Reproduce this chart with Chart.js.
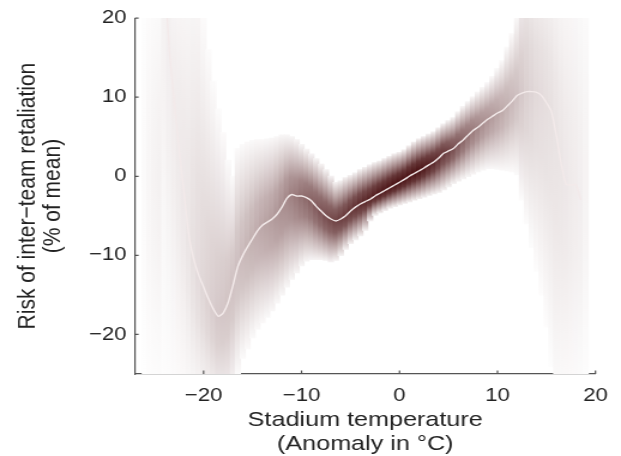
<!DOCTYPE html>
<html>
<head>
<meta charset="utf-8">
<script src="https://cdn.jsdelivr.net/npm/chart.js@4.4.1/dist/chart.umd.min.js"></script>
<style>
  html, body { margin: 0; padding: 0; background: #fff; }
  /* the reference figure is stretched sideways, so the canvas is too */
  #wrap { width: 518px; height: 456px; transform: scaleX(1.1988); transform-origin: 0 0; }
</style>
</head>
<body>
<div id="wrap"><canvas id="tempChart" width="518" height="456"></canvas></div>
<script>
// temperature anomaly (deg C) at which the band is sampled
const bandX = [
  -26, -25.5, -25, -24.5, -24, -23.5, -23, -22.5, -22, -21.5,
  -21, -20.5, -20, -19.5, -19, -18.5, -18, -17.5, -17, -16.5,
  -16, -15.5, -15, -14.5, -14, -13.5, -13, -12.5, -12, -11.5,
  -11, -10.5, -10, -9.5, -9, -8.5, -8, -7.5, -7, -6.5,
  -6, -5.5, -5, -4.5, -4, -3.5, -3, -2.5, -2, -1.5,
  -1, -0.5, 0, 0.5, 1, 1.5, 2, 2.5, 3, 3.5,
  4, 4.5, 5, 5.5, 6, 6.5, 7, 7.5, 8, 8.5,
  9, 9.5, 10, 10.5, 11, 11.5, 12, 12.5, 13, 13.5,
  14, 14.5, 15, 15.5, 16, 16.5, 17, 17.5, 18, 18.5, 19
];
// mean risk (% of mean), the white line
const meanRisk = [
  null, null, null, null, 26, 16, 9.5, 3.5, -2, -7.5,
  -10.5, -12.5, -14, -15.5, -16.8, -17.7, -17.3, -16, -13.8, -11.4,
  -10, -8.9, -7.9, -6.9, -6.2, -5.8, -5.4, -4.8, -3.9, -2.8,
  -2.3, -2.5, -2.5, -2.7, -3.1, -3.8, -4.4, -5.0, -5.4, -5.65,
  -5.4, -5.0, -4.4, -3.9, -3.5, -3.2, -2.9, -2.5, -2.15, -1.8,
  -1.45, -1.1, -0.75, -0.4, 0.0, 0.35, 0.7, 1.05, 1.45, 1.8,
  2.3, 2.9, 3.2, 3.5, 4.1, 4.6, 5.2, 5.8, 6.2, 6.7,
  7.2, 7.6, 8.0, 8.3, 8.9, 9.5, 10.2, 10.5, 10.7, 10.7,
  10.6, 10.2, 9.3, 8.2, 5.2, 1.6, -1.0, -1.1, -1.0, -3.0, null
];
// lower and upper edge of the uncertainty band
const bandLow = [
  -30, -30, -30, -30, -30, -30, -30, -30, -30, -30,
  -30, -30, -30, -30, -30, -30, -30, -30, -28, -25,
  -23, -21.8, -20.4, -19.3, -18.5, -17.8, -17.0, -16.0, -15.0, -14.0,
  -13.0, -12.2, -11.3, -10.7, -10.5, -10.5, -10.5, -10.6, -10.8, -10.6,
  -10.0, -9.2, -8.5, -8.0, -7.5, -6.8, -5.6, -4.9, -4.6, -4.3,
  -4.0, -3.8, -3.6, -3.4, -3.2, -3.0, -2.8, -2.6, -2.4, -2.2,
  -2.0, -1.7, -1.3, -0.9, -0.6, -0.3, 0.0, 0.3, 0.6, 0.8,
  1.0, 1.0, 0.9, 0.8, 0.7, 0.6, 0.2, -3, -6, -9,
  -12, -15, -19, -24, -30, -30, -30, -30, -30, -30, -30
];
const bandHigh = [
  30, 30, 30, 30, 30, 30, 30, 30, 30, 30,
  30, 28, 21, 16, 12, 8.5, 5.5, 2, 0, 3.5,
  4, 4.3, 4.5, 4.6, 4.6, 4.7, 4.8, 5.0, 5.2, 5.2,
  5.0, 4.6, 4.0, 3.4, 2.8, 2.2, 1.5, 0.8, 0.0, -0.8,
  -0.6, -0.2, 0.1, 0.4, 0.8, 1.1, 1.4, 1.7, 1.9, 2.2,
  2.5, 2.8, 3.0, 3.3, 3.8, 4.3, 4.7, 5.0, 5.3, 5.6,
  6.1, 6.6, 7.0, 7.4, 8.1, 8.8, 9.4, 10.0, 10.6, 11.2,
  11.8, 12.6, 13.6, 14.6, 16.3, 18.0, 20.5, 26, 30, 30,
  30, 30, 30, 30, 30, 30, 30, 30, 30, 30, 30
];
// darkness of the band at the mean line (0 = white, 1 = full colour)
const intensity = [
  0.02, 0.04, 0.05, 0.06, 0.06, 0.07, 0.08, 0.09, 0.10, 0.11,
  0.13, 0.15, 0.17, 0.19, 0.21, 0.23, 0.24, 0.25, 0.26, 0.27,
  0.29, 0.31, 0.33, 0.35, 0.37, 0.39, 0.41, 0.44, 0.47, 0.50,
  0.53, 0.56, 0.60, 0.63, 0.66, 0.69, 0.72, 0.75, 0.77, 0.79,
  0.81, 0.83, 0.85, 0.87, 0.89, 0.91, 0.93, 0.95, 0.97, 0.98,
  0.99, 1, 1, 1, 1, 1, 1, 0.98, 0.95, 0.92,
  0.88, 0.84, 0.80, 0.75, 0.70, 0.65, 0.60, 0.56, 0.52, 0.48,
  0.45, 0.42, 0.39, 0.36, 0.33, 0.30, 0.27, 0.23, 0.20, 0.18,
  0.16, 0.15, 0.14, 0.13, 0.12, 0.11, 0.10, 0.09, 0.08, 0.07, 0.05
];
const xTicks = [-20, -10, 0, 10, 20];
const yTicks = [-20, -10, 0, 10, 20];

const baseRGB = [74, 18, 20];
const axisColor = '#555555';
const textColor = '#222222';

// colour of the band mixed with white, so neighbouring bars do not stack up
function tint(a) {
  a = Math.max(0, Math.min(1, a));
  const c = baseRGB.map(v => Math.round(255 - (255 - v) * a));
  return 'rgb(' + c.join(',') + ')';
}

function bandFill(context) {
  const chart = context.chart;
  const i = context.dataIndex;
  if (!chart.chartArea || i === undefined) return 'rgba(0,0,0,0)';
  const yScale = chart.scales.y;
  const lo = bandLow[i], hi = bandHigh[i];
  const mid = meanRisk[i] !== null ? meanRisk[i] : (lo + hi) / 2;
  const top = yScale.getPixelForValue(hi);
  const bottom = yScale.getPixelForValue(lo);
  let f = (hi - mid) / (hi - lo);
  f = Math.max(0.02, Math.min(0.98, f));
  const a = intensity[i];
  const g = chart.ctx.createLinearGradient(0, top, 0, bottom);
  g.addColorStop(0, tint(a * 0.08));
  g.addColorStop(f * 0.35, tint(a * 0.45));
  g.addColorStop(f * 0.7, tint(a * 0.85));
  g.addColorStop(f, tint(a));
  g.addColorStop(f + (1 - f) * 0.3, tint(a * 0.85));
  g.addColorStop(f + (1 - f) * 0.65, tint(a * 0.45));
  g.addColorStop(1, tint(a * 0.08));
  return g;
}

function minusLabel(v) {
  return v < 0 ? '\u2212' + Math.abs(v) : String(v);
}

// short tick marks pointing into the plot, matlab style
const innerTicks = {
  id: 'innerTicks',
  afterDatasetsDraw(chart) {
    const {ctx, chartArea, scales} = chart;
    ctx.save();
    ctx.strokeStyle = axisColor;
    ctx.lineWidth = 1.2;
    ctx.beginPath();
    xTicks.forEach(v => {
      const px = scales.x.getPixelForValue(v);
      ctx.moveTo(px, chartArea.bottom);
      ctx.lineTo(px, chartArea.bottom - 3.5);
    });
    yTicks.forEach(v => {
      const py = scales.y.getPixelForValue(v);
      ctx.moveTo(chartArea.left, py);
      ctx.lineTo(chartArea.left + 3, py);
    });
    ctx.stroke();
    ctx.restore();
  }
};

const ctx = document.getElementById('tempChart').getContext('2d');
new Chart(ctx, {
  type: 'bar',
  data: {
    datasets: [
      {
        type: 'line',
        label: 'Mean',
        data: bandX.map((x, i) => ({x: x, y: meanRisk[i]})),
        borderColor: '#f3eaea',
        borderWidth: 1.4,
        pointRadius: 0,
        tension: 0.2,
        spanGaps: false,
        order: 0
      },
      {
        type: 'bar',
        label: 'Band',
        data: bandX.map((x, i) => ({x: x, y: [bandLow[i], bandHigh[i]]})),
        backgroundColor: bandFill,
        borderWidth: 0,
        borderSkipped: false,
        barPercentage: 1,
        categoryPercentage: 1,
        inflateAmount: 0.6,
        order: 1
      }
    ]
  },
  options: {
    responsive: false,
    animation: false,
    layout: { padding: { top: 13, right: 12.5, left: 0, bottom: 0 } },
    plugins: { legend: { display: false }, tooltip: { enabled: false } },
    scales: {
      x: {
        type: 'linear',
        min: -27,
        max: 20,
        offset: false,
        afterBuildTicks: s => { s.ticks = xTicks.map(v => ({value: v})); },
        afterFit: s => { s.height = 82; },
        grid: { display: false, drawTicks: false },
        border: { display: true, color: axisColor, width: 1.2 },
        ticks: {
          padding: 11,
          color: textColor,
          font: { family: 'Liberation Sans', size: 18.5 },
          maxRotation: 0,
          callback: minusLabel
        },
        title: {
          display: true,
          text: ['Stadium temperature', '(Anomaly in \u00b0C)'],
          color: textColor,
          font: { family: 'Liberation Sans', size: 21, lineHeight: 1.15 },
          padding: { top: 0, bottom: 0 }
        }
      },
      y: {
        min: -25,
        max: 20,
        afterBuildTicks: s => { s.ticks = yTicks.map(v => ({value: v})); },
        afterFit: s => { s.width = 112.6; },
        grid: { display: false, drawTicks: false },
        border: { display: true, color: axisColor, width: 1.2 },
        ticks: {
          padding: 7,
          color: textColor,
          font: { family: 'Liberation Sans', size: 18.5 },
          callback: minusLabel
        },
        title: {
          display: true,
          text: ['Risk of inter\u2212team retaliation', '(% of mean)'],
          color: textColor,
          font: { family: 'Liberation Sans', size: 21, lineHeight: 1.0 },
          padding: { top: 12.7, bottom: 0 }
        }
      }
    }
  },
  plugins: [innerTicks]
});
</script>
</body>
</html>
